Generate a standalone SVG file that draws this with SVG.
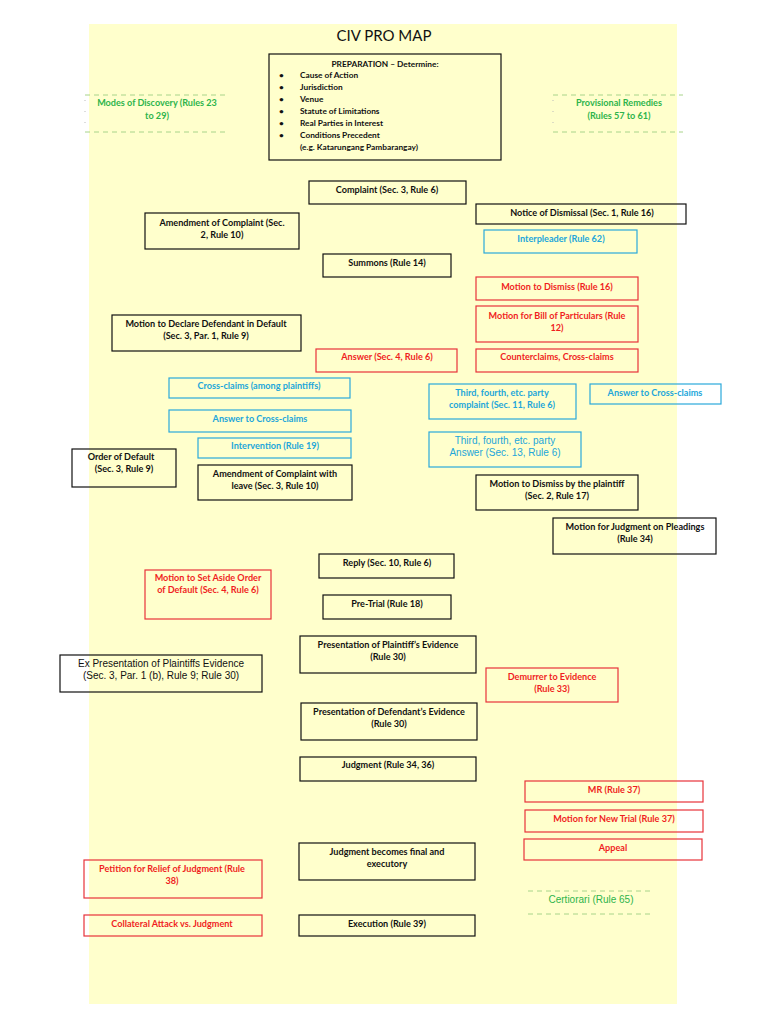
<svg xmlns="http://www.w3.org/2000/svg" width="768" height="1024" viewBox="0 0 768 1024">
<style>
rect.k{fill:none;stroke:#111;stroke-width:1.2}
rect.r{fill:none;stroke:#E8333A;stroke-width:1.2}
rect.c{fill:none;stroke:#2AA9DB;stroke-width:1.2}
text{font-family:Lato,"Liberation Sans",sans-serif;font-size:9.1px;font-weight:bold;text-anchor:middle;fill:#111}
text.p{font-size:8.3px}
text.r{fill:#F01E1E}
text.c{fill:#22A6DA}
text.g{fill:#2DB44B}
text.a{font-family:"Liberation Sans",Arial,sans-serif;font-weight:normal;font-size:10px}
text.l{text-anchor:start}
line.d{stroke:#A8D48A;stroke-width:1;stroke-dasharray:5 4}
line.v{stroke:#BBBBBB;stroke-width:1;stroke-dasharray:1 10}
</style>
<rect x="0" y="0" width="768" height="1024" fill="#FFFFFF"/>
<rect x="89" y="24" width="588" height="980" fill="#FFFFCC"/>
<text x="384" y="41" style="font-size:15px;font-weight:normal">CIV PRO MAP</text>

<g id="preparation">
<rect class="k" x="269" y="54" width="232" height="106"/>
<text class="p" x="385" y="67">PREPARATION – Determine:</text>
<text class="p l" x="279" y="78">•</text><text class="p l" x="300" y="78">Cause of Action</text>
<text class="p l" x="279" y="90">•</text><text class="p l" x="300" y="90">Jurisdiction</text>
<text class="p l" x="279" y="102">•</text><text class="p l" x="300" y="102">Venue</text>
<text class="p l" x="279" y="114">•</text><text class="p l" x="300" y="114">Statute of Limitations</text>
<text class="p l" x="279" y="126">•</text><text class="p l" x="300" y="126">Real Parties in Interest</text>
<text class="p l" x="279" y="138">•</text><text class="p l" x="300" y="138">Conditions Precedent</text>
<text class="p l" x="300" y="150">(e.g. Katarungang Pambarangay)</text>
</g>

<g id="modes-of-discovery">
<line class="d" x1="85" y1="95" x2="228" y2="95"/>
<line class="d" x1="85" y1="132" x2="228" y2="132"/>
<line class="v" x1="85" y1="100" x2="85" y2="130"/>
<text class="g" x="157" y="106">Modes of Discovery (Rules 23</text>
<text class="g" x="157" y="119">to 29)</text>
</g>

<g id="provisional-remedies">
<line class="d" x1="553" y1="95" x2="683" y2="95"/>
<line class="d" x1="553" y1="132" x2="683" y2="132"/>
<line class="v" x1="553" y1="100" x2="553" y2="130"/>
<text class="g" x="619" y="106">Provisional Remedies</text>
<text class="g" x="619" y="119">(Rules 57 to 61)</text>
</g>

<g id="complaint"><rect class="k" x="309" y="181" width="157" height="23"/><text x="387" y="193">Complaint (Sec. 3, Rule 6)</text></g>
<g id="notice-of-dismissal"><rect class="k" x="476" y="204" width="210" height="20"/><text x="582" y="216">Notice of Dismissal (Sec. 1, Rule 16)</text></g>
<g id="amendment-of-complaint"><rect class="k" x="145" y="213" width="154" height="36"/><text x="222" y="226">Amendment of Complaint (Sec.</text><text x="222" y="238">2, Rule 10)</text></g>
<g id="interpleader"><rect class="c" x="484" y="230" width="153" height="23"/><text class="c" x="561" y="242">Interpleader (Rule 62)</text></g>
<g id="summons"><rect class="k" x="323" y="254" width="128" height="23"/><text x="387" y="266">Summons (Rule 14)</text></g>
<g id="motion-to-dismiss"><rect class="r" x="476" y="277" width="162" height="23"/><text class="r" x="557" y="290">Motion to Dismiss (Rule 16)</text></g>
<g id="bill-of-particulars"><rect class="r" x="476" y="306" width="162" height="36"/><text class="r" x="557" y="319">Motion for Bill of Particulars (Rule</text><text class="r" x="557" y="331">12)</text></g>
<g id="motion-declare-default"><rect class="k" x="112" y="315" width="189" height="36"/><text x="206" y="327">Motion to Declare Defendant in Default</text><text x="206" y="339">(Sec. 3, Par. 1, Rule 9)</text></g>
<g id="answer"><rect class="r" x="316" y="349" width="141" height="23"/><text class="r" x="387" y="360">Answer (Sec. 4, Rule 6)</text></g>
<g id="counterclaims"><rect class="r" x="476" y="349" width="162" height="23"/><text class="r" x="557" y="360">Counterclaims, Cross-claims</text></g>
<g id="cross-claims-plaintiffs"><rect class="c" x="169" y="378" width="181" height="20"/><text class="c" x="259" y="389">Cross-claims (among plaintiffs)</text></g>
<g id="third-party-complaint"><rect class="c" x="429" y="384" width="147" height="35"/><text class="c" x="502" y="396">Third, fourth, etc. party</text><text class="c" x="502" y="408">complaint (Sec. 11, Rule 6)</text></g>
<g id="answer-cross-claims-right"><rect class="c" x="590" y="384" width="131" height="20"/><text class="c" x="655" y="396">Answer to Cross-claims</text></g>
<g id="answer-cross-claims-left"><rect class="c" x="169" y="410" width="182" height="22"/><text class="c" x="260" y="422">Answer to Cross-claims</text></g>
<g id="intervention"><rect class="c" x="198" y="438" width="153" height="20"/><text class="c" x="275" y="449">Intervention (Rule 19)</text></g>
<g id="third-party-answer"><rect class="c" x="429" y="432" width="152" height="35"/><text class="c a" x="505" y="444">Third, fourth, etc. party</text><text class="c a" x="505" y="456">Answer (Sec. 13, Rule 6)</text></g>
<g id="order-of-default"><rect class="k" x="72" y="449" width="104" height="38"/><text x="121" y="460">Order of Default</text><text x="124" y="472">(Sec. 3, Rule 9)</text></g>
<g id="amendment-with-leave"><rect class="k" x="198" y="465" width="154" height="35"/><text x="275" y="477">Amendment of Complaint with</text><text x="275" y="489">leave (Sec. 3, Rule 10)</text></g>
<g id="dismiss-by-plaintiff"><rect class="k" x="476" y="475" width="162" height="35"/><text x="557" y="487">Motion to Dismiss by the plaintiff</text><text x="557" y="499">(Sec. 2, Rule 17)</text></g>
<g id="judgment-on-pleadings"><rect class="k" x="553" y="518" width="163" height="36"/><text x="635" y="530">Motion for Judgment on Pleadings</text><text x="635" y="542">(Rule 34)</text></g>
<g id="reply"><rect class="k" x="319" y="554" width="135" height="24"/><text x="387" y="566">Reply (Sec. 10, Rule 6)</text></g>
<g id="set-aside-default"><rect class="r" x="145" y="570" width="126" height="49"/><text class="r" x="208" y="581">Motion to Set Aside Order</text><text class="r" x="208" y="593">of Default (Sec. 4, Rule 6)</text></g>
<g id="pre-trial"><rect class="k" x="323" y="595" width="128" height="24"/><text x="387" y="607">Pre-Trial (Rule 18)</text></g>
<g id="plaintiff-evidence"><rect class="k" x="300" y="636" width="176" height="37"/><text x="388" y="648">Presentation of Plaintiff’s Evidence</text><text x="388" y="660">(Rule 30)</text></g>
<g id="ex-presentation"><rect class="k" x="60" y="655" width="202" height="37"/><text class="a" x="161" y="667">Ex Presentation of Plaintiffs Evidence</text><text class="a" x="161" y="679">(Sec. 3, Par. 1 (b), Rule 9; Rule 30)</text></g>
<g id="demurrer"><rect class="r" x="486" y="668" width="132" height="34"/><text class="r" x="552" y="680">Demurrer to Evidence</text><text class="r" x="552" y="692">(Rule 33)</text></g>
<g id="defendant-evidence"><rect class="k" x="301" y="703" width="176" height="37"/><text x="389" y="715">Presentation of Defendant’s Evidence</text><text x="389" y="727">(Rule 30)</text></g>
<g id="judgment"><rect class="k" x="300" y="757" width="176" height="24"/><text x="388" y="768">Judgment (Rule 34, 36)</text></g>
<g id="mr"><rect class="r" x="525" y="781" width="178" height="21"/><text class="r" x="614" y="793">MR (Rule 37)</text></g>
<g id="new-trial"><rect class="r" x="525" y="810" width="178" height="22"/><text class="r" x="614" y="822">Motion for New Trial (Rule 37)</text></g>
<g id="appeal"><rect class="r" x="524" y="839" width="178" height="21"/><text class="r" x="613" y="851">Appeal</text></g>
<g id="final-executory"><rect class="k" x="299" y="843" width="176" height="37"/><text x="387" y="855">Judgment becomes final and</text><text x="387" y="867">executory</text></g>
<g id="petition-relief"><rect class="r" x="84" y="860" width="178" height="38"/><text class="r" x="172" y="872">Petition for Relief of Judgment (Rule</text><text class="r" x="172" y="884">38)</text></g>
<g id="certiorari">
<line class="d" x1="528" y1="891" x2="654" y2="891"/>
<line class="d" x1="528" y1="914" x2="654" y2="914"/>
<text class="g a" x="591" y="903">Certiorari (Rule 65)</text>
</g>
<g id="collateral-attack"><rect class="r" x="84" y="915" width="178" height="21"/><text class="r" x="172" y="927">Collateral Attack vs. Judgment</text></g>
<g id="execution"><rect class="k" x="299" y="915" width="176" height="21"/><text x="387" y="927">Execution (Rule 39)</text></g>

<g id="connectors"></g>
</svg>
